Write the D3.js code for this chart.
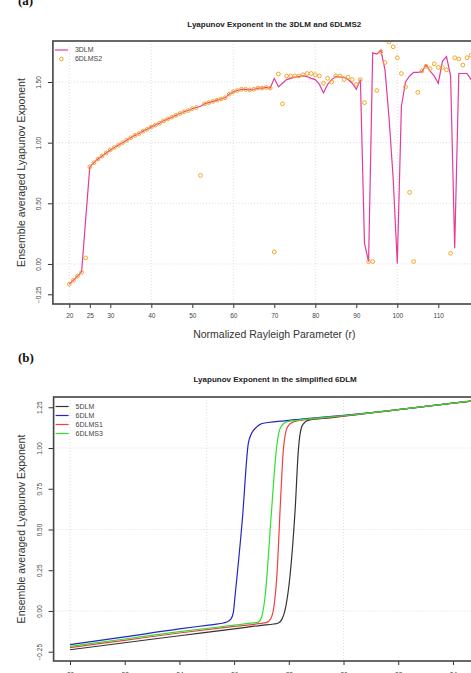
<!DOCTYPE html>
<html><head><meta charset="utf-8">
<script src="https://cdn.jsdelivr.net/npm/d3@7"></script>
<style>
body{margin:0;background:#fff;}
svg{display:block;font-family:"Liberation Sans",Arial,sans-serif;}
</style></head>
<body>
<svg id="c" width="471" height="673"></svg>
<script>
// ---------- Panel (a) data ----------
const rA = d3.range(20, 121, 1);
const lm3 = [-0.165,-0.135,-0.10,-0.065,0.37,0.80,0.835,0.865,0.89,0.915,
 0.94,0.96,0.98,1.00,1.02,1.04,1.06,1.075,1.095,1.11,
 1.13,1.145,1.16,1.18,1.195,1.21,1.225,1.24,1.255,1.265,
 1.28,1.29,1.30,1.32,1.33,1.34,1.35,1.36,1.37,1.40,
 1.42,1.43,1.44,1.44,1.435,1.44,1.45,1.45,1.455,1.45,
 1.53,1.46,1.49,1.52,1.53,1.54,1.545,1.55,1.545,1.53,
 1.52,1.48,1.41,1.48,1.52,1.545,1.54,1.54,1.52,1.49,
 1.44,1.52,0.17,0.02,1.74,1.73,1.76,1.60,1.20,0.70,
 0.005,1.30,1.50,1.55,1.58,1.58,1.585,1.64,1.59,1.55,
 1.49,1.67,1.71,1.55,0.13,1.57,1.57,1.57,1.52,1.50,1.52];
const lms2 = [-0.167,-0.135,-0.10,-0.07,0.05,0.80,0.835,0.865,0.89,0.915,
 0.94,0.96,0.98,1.00,1.02,1.04,1.06,1.075,1.095,1.11,
 1.13,1.145,1.16,1.18,1.195,1.21,1.225,1.24,1.255,1.265,
 1.28,1.29,0.73,1.32,1.33,1.34,1.35,1.36,1.37,1.40,
 1.42,1.43,1.44,1.44,1.435,1.44,1.45,1.45,1.455,1.45,
 0.10,1.566,1.32,1.55,1.55,1.55,1.55,1.56,1.57,1.57,
 1.56,1.55,1.49,1.53,1.50,1.55,1.55,1.52,1.54,1.52,
 1.48,1.52,1.33,0.02,0.02,1.43,1.75,1.66,1.83,1.79,
 1.70,1.57,1.46,0.59,0.02,1.415,1.59,1.63,1.61,1.65,
 1.62,1.62,1.60,0.088,1.70,1.69,1.64,1.70,1.72,1.70,1.72];
const xTicksA = [20,25,30,40,50,60,70,80,90,100,110];
const yTicksA = [-0.25,0,0.5,1,1.5];
const xGridA = [20,40,60,80,100,120];
const yGridA = [0,0.5,1,1.5];

// ---------- Panel (b) data ----------
const r5DLM  = [20,22,24,26,27,27.45,27.62,27.75,27.86,28.04,28.23,28.35,28.47,28.6,28.71,29.5,30,31,32,33,34,35];
const v5DLM  = [-0.238,-0.195,-0.152,-0.11,-0.088,-0.08,-0.074,-0.05,0.004,0.21,0.62,0.99,1.13,1.16,1.17,1.185,1.195,1.215,1.235,1.255,1.275,1.295];
const r6DLM  = [20,22,24,25,25.5,25.73,25.88,25.97,26.03,26.3,26.52,26.64,26.8,26.95,27.07,27.6,28.65,30,31,32,33,34,35];
const v6DLM  = [-0.207,-0.159,-0.11,-0.088,-0.077,-0.068,-0.05,-0.01,0.086,0.56,1.03,1.09,1.125,1.145,1.152,1.163,1.18,1.2,1.217,1.235,1.255,1.275,1.295];
const r6S1   = [20,22,24,26,26.9,27.19,27.33,27.45,27.56,27.71,27.8,27.95,28.17,28.7,30,31,32,33,34,35];
const v6S1   = [-0.225,-0.18,-0.135,-0.095,-0.078,-0.07,-0.05,0.02,0.209,0.72,0.99,1.13,1.16,1.175,1.197,1.215,1.235,1.255,1.275,1.295];
const r6S3   = [20,22,24,26,26.6,26.88,27.0,27.13,27.37,27.53,27.68,27.92,28.3,28.7,30,31,32,33,34,35];
const v6S3   = [-0.217,-0.172,-0.127,-0.087,-0.075,-0.068,-0.04,0.086,0.62,0.967,1.12,1.16,1.17,1.178,1.198,1.216,1.236,1.256,1.276,1.297];
const xTicksB = [20,22,24,26,28,30,32,34];
const yTicksB = [-0.25,0,0.25,0.5,0.75,1,1.25];
const xGridB = [20,25,30,35];
const yGridB = [0,0.5,1];

const svg = d3.select("#c");
const tickFont = 6.5, tickCol = "#444";

function panel(cfg){
  const g = svg.append("g");
  const x = d3.scaleLinear().domain(cfg.xd).range(cfg.xr);
  const y = d3.scaleLinear().domain(cfg.yd).range(cfg.yr);
  const [L,R] = cfg.xr, [B,T] = cfg.yr;
  const id = "clip"+cfg.key;
  svg.append("defs").append("clipPath").attr("id",id)
    .append("rect").attr("x",L).attr("y",T).attr("width",R-L).attr("height",B-T);
  // grid
  g.selectAll(null).data(cfg.xg).join("line")
    .attr("x1",d=>x(d)).attr("x2",d=>x(d)).attr("y1",T).attr("y2",B)
    .attr("stroke","#d4d4d4").attr("stroke-width",0.8).attr("stroke-dasharray","1,2");
  g.selectAll(null).data(cfg.yg).join("line")
    .attr("x1",L).attr("x2",R).attr("y1",d=>y(d)).attr("y2",d=>y(d))
    .attr("stroke","#d4d4d4").attr("stroke-width",0.8).attr("stroke-dasharray","1,2");
  // x axis
  const ax = g.append("g").attr("transform",`translate(0,${B})`)
    .call(d3.axisBottom(x).tickValues(cfg.xt).tickSize(4).tickSizeOuter(0).tickFormat(d3.format("d")));
  ax.select(".domain").remove();
  ax.selectAll(".tick line").attr("stroke","#333").attr("stroke-width",1);
  ax.selectAll(".tick text").attr("font-size",tickFont).attr("fill",tickCol)
    .attr("font-family","Liberation Sans, Arial, sans-serif").attr("dy","0").attr("y",cfg.xLabY);
  // y axis
  const ay = g.append("g").attr("transform",`translate(${L},0)`)
    .call(d3.axisLeft(y).tickValues(cfg.yt).tickSize(5).tickSizeOuter(0).tickFormat(d3.format(".2f")));
  ay.select(".domain").remove();
  ay.selectAll(".tick line").attr("stroke","#333").attr("stroke-width",1);
  ay.selectAll(".tick text").attr("font-size",tickFont).attr("fill",tickCol)
    .attr("font-family","Liberation Sans, Arial, sans-serif")
    .attr("x",null).attr("dy",null).attr("text-anchor","middle")
    .attr("transform","translate(-12,0) rotate(-90)");
  // data
  const pg = g.append("g").attr("clip-path",`url(#${id})`);
  cfg.draw(pg,x,y);
  // box
  g.append("rect").attr("x",L).attr("y",T).attr("width",R-L).attr("height",B-T)
    .attr("fill","none").attr("stroke","#444").attr("stroke-width",1.6);
  // title & labels
  const cx = (L+R)/2;
  g.append("text").attr("x",cx).attr("y",cfg.titleY).attr("text-anchor","middle")
    .attr("font-size",8).attr("font-weight","bold").attr("fill","#222").text(cfg.title);
  if(cfg.xlab) g.append("text").attr("x",cx).attr("y",cfg.xlabY).attr("text-anchor","middle")
    .attr("font-size",10.5).attr("fill","#333").text(cfg.xlab);
  g.append("text").attr("transform",`translate(${cfg.ylabX},${(T+B)/2}) rotate(-90)`)
    .attr("text-anchor","middle").attr("font-size",10.5).attr("fill","#333").text(cfg.ylab);
  g.append("text").attr("x",18).attr("y",cfg.tagY).attr("font-family","Liberation Serif, Times New Roman, serif")
    .attr("font-weight","bold").attr("font-size",13).attr("fill","#111").text(cfg.tag);
  // legend
  const lg = g.append("g");
  cfg.legend.forEach((it,i)=>{
    const yy = cfg.legY + i*cfg.legDy;
    if(it.type==="line"){
      lg.append("line").attr("x1",L+2).attr("x2",L+15).attr("y1",yy).attr("y2",yy)
        .attr("stroke",it.color).attr("stroke-width",1.2);
    } else {
      lg.append("circle").attr("cx",L+8.5).attr("cy",yy).attr("r",1.8)
        .attr("fill","none").attr("stroke",it.color).attr("stroke-width",1);
    }
    lg.append("text").attr("x",L+22).attr("y",yy+2.4).attr("font-size",7).attr("fill","#444").text(it.label);
  });
}

const pink = "#e33a9c", orange = "#f5a623";

panel({
  key:"a", xd:[16,124], xr:[52.9,495.7], yd:[-0.33,1.838], yr:[304,41],
  xt:xTicksA, yt:yTicksA, xg:xGridA, yg:yGridA, xLabY:14,
  title:"Lyapunov Exponent in the 3DLM and 6DLMS2", titleY:27,
  xlab:"Normalized Rayleigh Parameter (r)", xlabY:338,
  ylab:"Ensemble averaged Lyapunov Exponent", ylabX:25,
  tag:"(a)", tagY:5,
  legY:50, legDy:9,
  legend:[{type:"line",color:pink,label:"3DLM"},{type:"pt",color:orange,label:"6DLMS2"}],
  draw:(pg,x,y)=>{
    const line = d3.line().x((d,i)=>x(rA[i])).y(d=>y(d));
    pg.append("path").datum(lm3).attr("d",line).attr("fill","none")
      .attr("stroke",pink).attr("stroke-width",1.2);
    pg.selectAll(null).data(lms2).join("circle")
      .attr("cx",(d,i)=>x(rA[i])).attr("cy",d=>y(d)).attr("r",1.9)
      .attr("fill","none").attr("stroke",orange).attr("stroke-width",1);
  }
});

panel({
  key:"b", xd:[19.4,35.6], xr:[53.6,496.7], yd:[-0.307,1.313], yr:[661,397],
  xt:xTicksB, yt:yTicksB, xg:xGridB, yg:yGridB, xLabY:16,
  title:"Lyapunov Exponent in the simplified 6DLM", titleY:382,
  xlab:null, xlabY:0,
  ylab:"Ensemble averaged Lyapunov Exponent", ylabX:25,
  tag:"(b)", tagY:362,
  legY:406.5, legDy:9,
  legend:[{type:"line",color:"#333",label:"5DLM"},{type:"line",color:"#2424c8",label:"6DLM"},
          {type:"line",color:"#f04040",label:"6DLMS1"},{type:"line",color:"#30e030",label:"6DLMS3"}],
  draw:(pg,x,y)=>{
    const series = [
      {r:r5DLM, v:v5DLM, c:"#333"},
      {r:r6DLM, v:v6DLM, c:"#2424c8"},
      {r:r6S1, v:v6S1, c:"#f04040"},
      {r:r6S3, v:v6S3, c:"#30e030"}
    ];
    series.forEach(s=>{
      const pts = s.r.map((r,i)=>[r,s.v[i]]);
      pg.append("path").datum(pts)
        .attr("d",d3.line().x(d=>x(d[0])).y(d=>y(d[1])).curve(d3.curveMonotoneX))
        .attr("fill","none").attr("stroke",s.c).attr("stroke-width",1.2);
    });
  }
});
</script>
</body></html>
